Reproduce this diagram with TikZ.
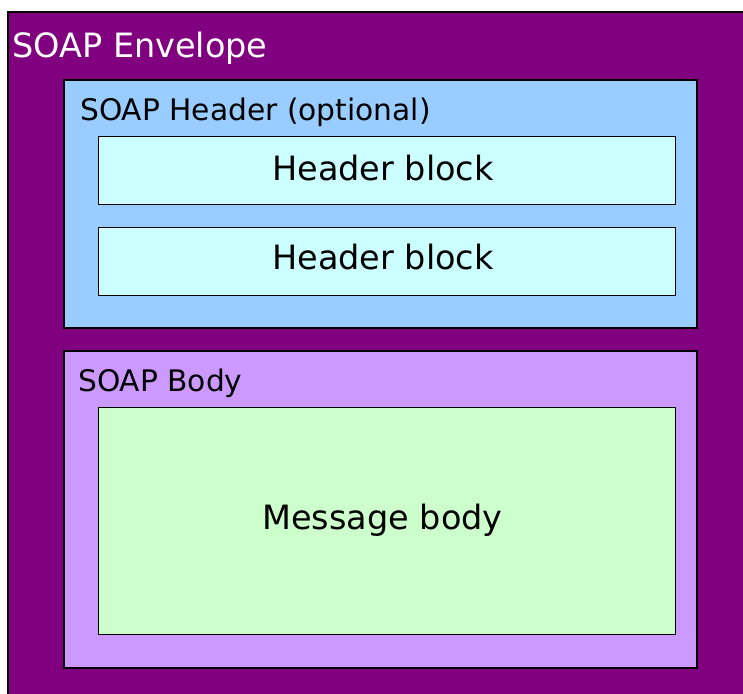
\documentclass[tikz,border=0pt]{standalone}
\usepackage{fontspec}
\setmainfont{DejaVu Sans}
\definecolor{envc}{HTML}{800080}
\definecolor{hdrc}{HTML}{99CCFF}
\definecolor{hblk}{HTML}{CCFFFF}
\definecolor{bodyc}{HTML}{CC99FF}
\definecolor{msgc}{HTML}{CCFFCC}
\begin{document}
\begin{tikzpicture}[x=1pt,y=-1pt,
  boxst/.style={draw=black,line width=1.3pt},
  biglab/.style={font=\fontsize{33.5}{36}\selectfont,inner sep=0pt},
  sublab/.style={font=\fontsize{29.7}{32}\selectfont,inner sep=0pt,anchor=base west}]
\useasboundingbox (0,0) rectangle (743,693);
\clip (0,0) rectangle (743,693);
\fill[white] (0,0) rectangle (743,693);
\draw[boxst,fill=envc] (8,12) rectangle (770,720);
\node[biglab,anchor=base west,text=white] (envlab) at (12,57) {SOAP Envelope};
\draw[boxst,fill=hdrc] (64,80) rectangle (697,328);
\node[sublab] (hdrlab) at (80,120) {SOAP Header (optional)};
\node[boxst,fill=hblk,minimum width=577pt,minimum height=68pt,anchor=north west,inner sep=0pt] (hb1) at (98,136) {};
\node[biglab,anchor=base] (hb1lab) at (383,180) {Header block};
\node[boxst,fill=hblk,minimum width=577pt,minimum height=68pt,anchor=north west,inner sep=0pt] (hb2) at (98,227) {};
\node[biglab,anchor=base] (hb2lab) at (383,269) {Header block};
\draw[boxst,fill=bodyc] (64,351) rectangle (697,668);
\node[sublab] (bodylab) at (78,391) {SOAP Body};
\node[boxst,fill=msgc,minimum width=577pt,minimum height=227pt,anchor=north west,inner sep=0pt] (msg) at (98,407) {};
\node[biglab,anchor=base] (msglab) at (382.5,529) {Message body};
\end{tikzpicture}
\end{document}
